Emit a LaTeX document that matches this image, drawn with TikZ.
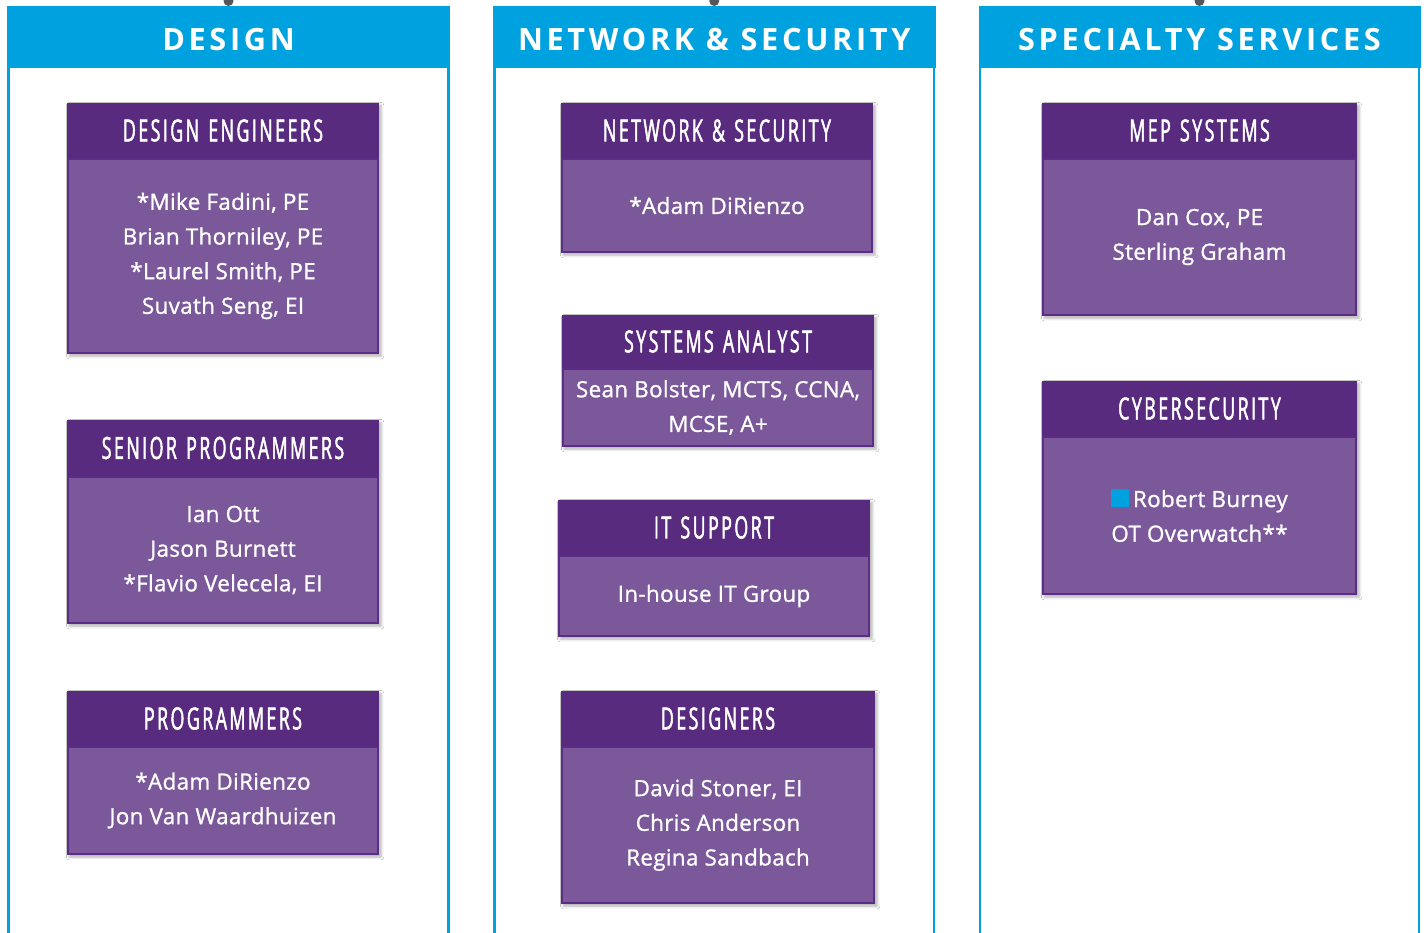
\documentclass[tikz,border=0pt]{standalone}
\usepackage{fontspec}
\setmainfont[FakeBold=1.1,LetterSpace=1.5]{Open Sans}
\newfontfamily\panelfont[LetterSpace=12]{Open Sans}
\newfontfamily\hdrfont[FakeStretch=0.58,LetterSpace=8,FakeBold=1.6,WordSpace=1.3]{Open Sans}
\usetikzlibrary{shadows.blur}
\definecolor{pblue}{RGB}{0,161,223}
\definecolor{hpurple}{RGB}{88,43,127}
\definecolor{bpurple}{RGB}{123,88,154}
\definecolor{edgepurple}{RGB}{92,45,135}
\definecolor{dotgray}{RGB}{85,85,90}
\tikzset{
  panelhdr/.style={fill=pblue, text=white, inner sep=0pt,
    font=\panelfont\bfseries\fontsize{23}{26}\selectfont},
  paneledge/.style={draw=pblue, line width=2pt},
  hdrbox/.style={fill=hpurple, text=white, inner sep=0pt,
    font=\hdrfont\fontsize{23}{26}\selectfont},
  bodybox/.style={fill=bpurple, draw=edgepurple, line width=1.8pt, text=white,
    inner sep=0pt, align=center, font=\fontsize{16.8}{26}\selectfont},
  bshadow/.style={fill=bpurple, blur shadow={shadow xshift=1.6pt, shadow yshift=-1.6pt,
    shadow blur radius=2pt, shadow opacity=30}},
}
\newcommand\panel[4]{%
  \fill[dotgray] ({(#2+#3)/2},1) circle[radius=5];
  \draw[paneledge] (#2,60) -- (#2,960) (#3,60) -- (#3,960);
  \node[panelhdr, minimum width={(#3-#2+3)*0.75pt}, minimum height={62*0.75pt}] (#1) at ({(#2+#3)/2},37) {\raisebox{-2pt}[\height][\depth]{#4}};
}
\newcommand\orgbox[8]{%
  \fill[bshadow] (#2,#4) rectangle (#3,#6);
  \node[hdrbox, minimum width={(#3-#2)*0.75pt}, minimum height={(#5-#4)*0.75pt}] (#1-h) at ({(#2+#3)/2},{(#4+#5)/2}) {#7};
  \node[bodybox, minimum width={(#3-#2)*0.75pt-1.8pt}, minimum height={(#6-#5)*0.75pt-1.8pt}] (#1-b) at ({(#2+#3)/2},{(#5+#6)/2}) {#8};
}
\begin{document}
\begin{tikzpicture}[x=0.75pt,y=-0.75pt]
\useasboundingbox (0,0) rectangle (1427,932);
\clip (0,0) rectangle (1427,932);
\fill[white] (0,0) rectangle (1427,932);
\panel{p1}{8.5}{448.5}{DESIGN}
\panel{p2}{494.5}{934}{NETWORK \& SECURITY}
\panel{p3}{980}{1419}{SPECIALTY SERVICES}
\orgbox{de}{67}{379}{103}{158}{354}{DESIGN ENGINEERS}{*Mike Fadini, PE\\Brian Thorniley, PE\\*Laurel Smith, PE\\Suvath Seng, EI}
\orgbox{sp}{67}{379}{420}{476}{624}{SENIOR PROGRAMMERS}{Ian Ott\\Jason Burnett\\*Flavio Velecela, EI}
\orgbox{pr}{67}{379}{691}{746}{855}{PROGRAMMERS}{*Adam DiRienzo\\Jon Van Waardhuizen}
\orgbox{ns}{561}{873}{103}{158}{253}{NETWORK \& SECURITY}{*Adam DiRienzo}
\orgbox{sa}{562}{874}{315}{368}{447}{SYSTEMS ANALYST}{Sean Bolster, MCTS, CCNA,\\MCSE, A+}
\orgbox{it}{558}{870}{500}{555}{637}{IT SUPPORT}{In-house IT Group}
\orgbox{ds}{561}{875}{691}{746}{904}{DESIGNERS}{David Stoner, EI\\Chris Anderson\\Regina Sandbach}
\orgbox{mep}{1042}{1357}{103}{158}{316}{MEP SYSTEMS}{Dan Cox, PE\\Sterling Graham}
\orgbox{cy}{1042}{1357}{381}{436}{595}{CYBERSECURITY}{{\color{pblue}\rule{13.5pt}{13.5pt}}\,Robert Burney\\OT Overwatch**}
\end{tikzpicture}
\end{document}
